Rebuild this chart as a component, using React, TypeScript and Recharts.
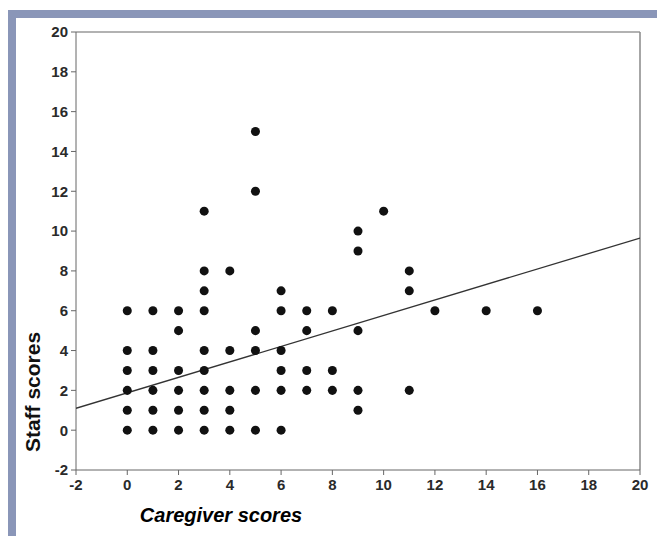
import { ScatterChart, Scatter, XAxis, YAxis, ZAxis, ReferenceLine } from "recharts";

// caregiver score (x) / staff score (y) pairs
const caregiver = [
  0, 0, 0, 0, 0, 0,
  1, 1, 1, 1, 1, 1,
  2, 2, 2, 2, 2, 2,
  3, 3, 3, 3, 3, 3, 3, 3, 3,
  4, 4, 4, 4, 4,
  5, 5, 5, 5, 5, 5,
  6, 6, 6, 6, 6, 6,
  7, 7, 7, 7,
  8, 8, 8,
  9, 9, 9, 9, 9,
  10,
  11, 11, 11,
  12, 14, 16,
];
const staff = [
  6, 4, 3, 2, 1, 0,
  6, 4, 3, 2, 1, 0,
  6, 5, 3, 2, 1, 0,
  11, 8, 7, 6, 4, 3, 2, 1, 0,
  8, 4, 2, 1, 0,
  15, 12, 5, 4, 2, 0,
  7, 6, 4, 3, 2, 0,
  6, 5, 3, 2,
  6, 3, 2,
  10, 9, 5, 2, 1,
  11,
  8, 7, 2,
  6, 6, 6,
];

// fitted line end points
const fitX = [-2, 20];
const fitY = [1.1, 9.65];

const ticks = [-2, 0, 2, 4, 6, 8, 10, 12, 14, 16, 18, 20];

const points = caregiver.map((x, i) => ({ x, y: staff[i] }));
const fit = fitX.map((x, i) => ({ x, y: fitY[i] }));

const narrow = "'Liberation Sans Narrow', 'Arial Narrow', 'Liberation Sans', Arial, sans-serif";
const tickStyle = { fill: "#2a2a2a", fontSize: 15, fontWeight: "bold", fontFamily: narrow };
const titleFont = "'Liberation Sans', Arial, sans-serif";

export default function App() {
  return (
    <div style={{ position: "absolute", left: 0, top: 0, width: 657, height: 536, background: "#fff" }}>
      <div style={{ position: "absolute", left: 8, top: 10, width: 649, height: 8, background: "#8a96b8" }} />
      <div style={{ position: "absolute", left: 8, top: 10, width: 8, height: 526, background: "#8a96b8" }} />
      <div style={{ position: "absolute", left: 0, top: 0 }}>
        <ScatterChart width={657} height={536} margin={{ top: 32, right: 17, left: 36, bottom: 10 }}>
          <XAxis
            type="number"
            dataKey="x"
            domain={[-2, 20]}
            ticks={ticks}
            tick={tickStyle}
            tickSize={5}
            tickMargin={4}
            height={56}
            stroke="#666"
            allowDataOverflow
            label={{
              value: "Caregiver scores",
              position: "insideBottom",
              offset: 4,
              dx: -137,
              style: { fill: "#000", fontSize: 20, fontWeight: "bold", fontStyle: "italic", fontFamily: titleFont },
            }}
          />
          <YAxis
            type="number"
            dataKey="y"
            domain={[-2, 20]}
            ticks={ticks}
            tick={tickStyle}
            tickSize={5}
            tickMargin={3}
            width={40}
            stroke="#666"
            allowDataOverflow
            label={{
              value: "Staff scores",
              content: () => (
                <text
                  x={0}
                  y={0}
                  transform="translate(40,392) rotate(-90)"
                  textAnchor="middle"
                  fill="#111"
                  fontSize={21}
                  fontWeight="bold"
                  fontFamily={narrow}
                >
                  Staff scores
                </text>
              ),
            }}
          />
          <ZAxis range={[36, 36]} />
          <ReferenceLine y={20} stroke="#999" strokeWidth={1.5} />
          <ReferenceLine x={20} stroke="#888" strokeWidth={1.5} />
          <Scatter
            data={fit}
            line={{ stroke: "#333", strokeWidth: 1.3 }}
            shape={() => <g />}
            isAnimationActive={false}
          />
          <Scatter data={points} fill="#111" isAnimationActive={false} />
        </ScatterChart>
      </div>
    </div>
  );
}
